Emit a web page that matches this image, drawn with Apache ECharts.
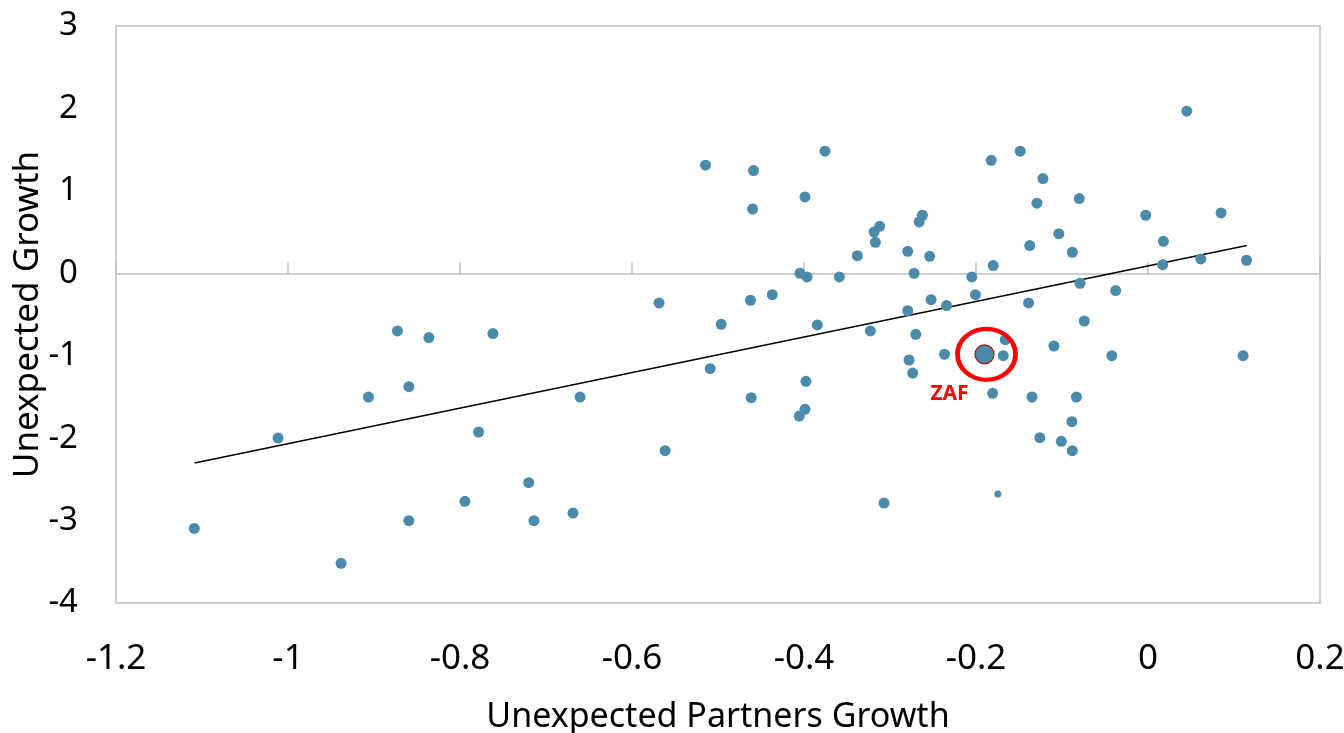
<!DOCTYPE html>
<html>
<head>
<meta charset="utf-8">
<title>Unexpected Growth vs Unexpected Partners Growth</title>
<script src="https://cdn.jsdelivr.net/npm/echarts@6/dist/echarts.min.js"></script>
<style>
  html, body { margin: 0; padding: 0; background: #ffffff; }
  #chart { width: 1344px; height: 733px; }
</style>
</head>
<body>
<div id="chart"></div>
<script>
// Unexpected partners growth (x) and unexpected own growth (y), one entry per country
const partnersGrowth = [
  -0.5145, -0.4587, -0.3756, -0.3989, -0.4598, -0.3120, -0.3185, -0.3170, -0.3380, -0.2794,
  -0.2660, -0.2623, -0.4047, -0.3965, -0.3589, -0.2720, -0.5685, -0.4622, -0.4369, -0.2794,
   0.0451, -0.1823, -0.1486, -0.1222, -0.1292, -0.0799, -0.0027,  0.0850, -0.1037, -0.1375,
  -0.0880,  0.0179, -0.2538, -0.1800,  0.0171,  0.0614,  0.1146, -0.2049, -0.2006, -0.0791,
  -0.0376, -0.2522, -0.2343, -0.1389, -0.8727, -0.8362, -0.7617, -0.8595, -0.9064, -1.0116,
  -0.7784, -1.1090, -0.7943, -0.8595, -0.9383, -0.4963, -0.3845, -0.3228, -0.2700, -0.6604,
  -0.5091, -0.4614, -0.3977, -0.3989, -0.4055, -0.2778, -0.2736, -0.5615, -0.7201, -0.7140,
  -0.6686, -0.3069, -0.0741, -0.2366, -0.1660, -0.1683, -0.1094, -0.0420,  0.1106, -0.1806,
  -0.1349, -0.0833, -0.0885, -0.1258, -0.1008, -0.0880
];
const ownGrowth = [
   1.311,  1.246,  1.481,  0.926,  0.780,  0.570,  0.501,  0.376,  0.214,  0.267,
   0.623,  0.704,  0.000, -0.044, -0.044,  0.000, -0.360, -0.328, -0.259, -0.453,
   1.966,  1.371,  1.481,  1.149,  0.850,  0.906,  0.704,  0.732,  0.481,  0.336,
   0.255,  0.388,  0.206,  0.093,  0.105,  0.174,  0.158, -0.044, -0.259, -0.121,
  -0.210, -0.320, -0.392, -0.360, -0.700, -0.780, -0.732, -1.375, -1.501, -1.999,
  -1.926, -3.095, -2.767, -3.001, -3.519, -0.619, -0.627, -0.700, -0.740, -1.501,
  -1.157, -1.509, -1.311, -1.650, -1.732, -1.052, -1.210, -2.152, -2.540, -3.001,
  -2.909, -2.788, -0.579, -0.983, -0.805, -0.999, -0.882, -0.999, -0.999, -1.456,
  -1.501, -1.501, -1.800, -1.994, -2.039, -2.152
];

// A single smaller observation
const smallPoint = [-0.1746, -2.678];

// Highlighted country
const zafLabel = 'ZAF';
const zafPoint = [-0.1901, -0.983];

// Fitted line end points
const fitX = [-1.1086, 0.1149];
const fitY = [-2.302, 0.336];

// Axis settings
const xTicks = { min: -1.2, max: 0.2, step: 0.2 };
const yTicks = { min: -4, max: 3, step: 1 };
const xTitle = 'Unexpected Partners Growth';
const yTitle = 'Unexpected Growth';

const pointColor = '#4A8BAC';
const axisGray = '#BFBFBF';
const fontFamily = '"Noto Sans", "Open Sans", sans-serif';

const scatterData = partnersGrowth.map((x, i) => [x, ownGrowth[i]]);
const fitData = fitX.map((x, i) => [x, fitY[i]]);

const chart = echarts.init(document.getElementById('chart'), null, { renderer: 'canvas' });

chart.setOption({
  animation: false,
  backgroundColor: '#ffffff',
  textStyle: { fontFamily: fontFamily },
  grid: {
    left: 116, top: 26, right: 24, bottom: 130,
    containLabel: false,
    outerBoundsMode: 'none',
    show: true, borderColor: axisGray, borderWidth: 1.5,
    backgroundColor: 'transparent'
  },
  xAxis: [
    {
      // zero line with upward ticks
      type: 'value', min: xTicks.min, max: xTicks.max, interval: xTicks.step,
      position: 'bottom',
      axisLine: { show: true, onZero: true, lineStyle: { color: axisGray, width: 1.5 } },
      axisTick: { show: true, inside: true, length: 11, lineStyle: { color: axisGray, width: 1.5 } },
      axisLabel: { show: false },
      splitLine: { show: false }
    },
    {
      // tick labels and title along the bottom
      type: 'value', min: xTicks.min, max: xTicks.max, interval: xTicks.step,
      position: 'bottom',
      axisLine: { show: false, onZero: false },
      axisTick: { show: false },
      axisLabel: { show: true, fontSize: 35, color: '#000000', margin: 39, fontFamily: fontFamily },
      splitLine: { show: false },
      name: xTitle, nameLocation: 'middle', nameGap: 97,
      nameMoveOverlap: false,
      nameTextStyle: { fontSize: 34, color: '#000000', fontFamily: fontFamily }
    }
  ],
  yAxis: {
    type: 'value', min: yTicks.min, max: yTicks.max, interval: yTicks.step,
    axisLine: { show: false },
    axisTick: { show: false },
    splitLine: { show: false },
    axisLabel: { fontSize: 33, color: '#000000', margin: 38, fontFamily: fontFamily },
    name: yTitle, nameLocation: 'middle', nameGap: 70,
    nameMoveOverlap: false,
    nameTextStyle: { fontSize: 35, color: '#000000', fontFamily: fontFamily }
  },
  series: [
    {
      type: 'line',
      data: fitData,
      symbol: 'none',
      lineStyle: { color: '#000000', width: 1.5 },
      silent: true,
      z: 2
    },
    {
      type: 'scatter',
      data: scatterData,
      symbol: 'circle',
      symbolSize: 11,
      itemStyle: { color: pointColor, opacity: 1 },
      silent: true,
      z: 3
    },
    {
      type: 'scatter',
      data: [smallPoint],
      symbol: 'circle',
      symbolSize: 7,
      itemStyle: { color: pointColor, opacity: 1 },
      silent: true,
      z: 3
    },
    {
      // highlighted country marker
      type: 'scatter',
      data: [zafPoint],
      symbol: 'circle',
      symbolSize: 19,
      itemStyle: { color: pointColor, borderColor: '#A01818', borderWidth: 1.2, opacity: 1 },
      label: {
        show: true, formatter: zafLabel, position: 'bottom', distance: 0,
        offset: [-35, 19],
        color: '#FF0000', fontSize: 21, fontWeight: 'bold', fontFamily: fontFamily
      },
      silent: true,
      z: 5
    },
    {
      // red ring around the highlighted country
      type: 'scatter',
      data: [zafPoint],
      symbol: 'circle',
      symbolSize: [58, 51],
      symbolOffset: [2, 0],
      itemStyle: { color: 'rgba(0,0,0,0)', borderColor: '#FF0000', borderWidth: 4.5, opacity: 1 },
      silent: true,
      z: 6
    }
  ]
});
</script>
</body>
</html>
